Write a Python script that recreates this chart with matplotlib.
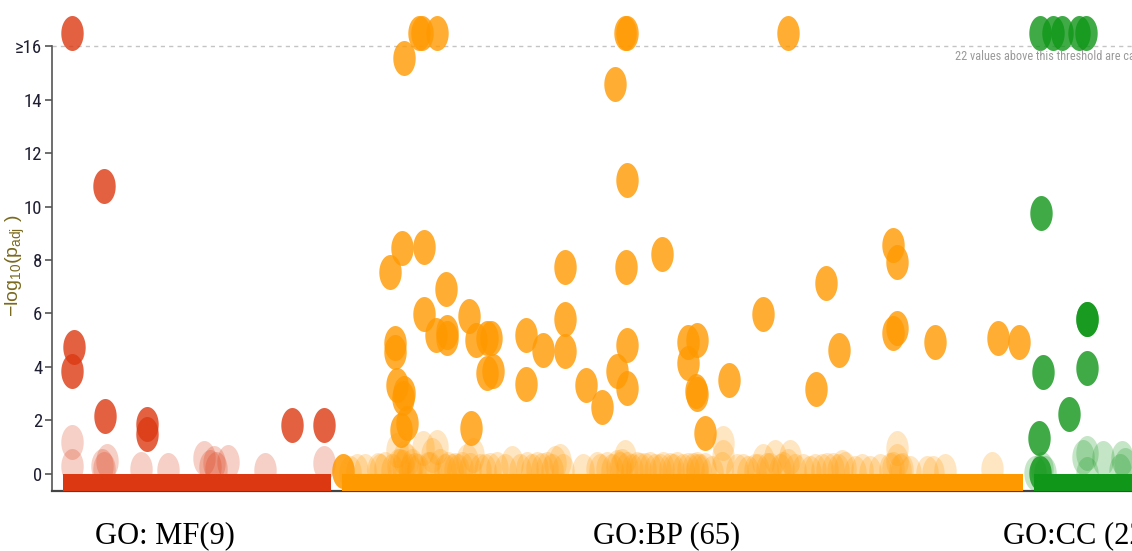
import numpy as np
import matplotlib
matplotlib.use("Agg")
import matplotlib.pyplot as plt
import matplotlib.font_manager as fm
from matplotlib.path import Path

# ---------------- data ----------------
categories = ["GO: MF(9)", "GO:BP (65)", "GO:CC (22)"]
cat_colors = ["#dc3912", "#ff9900", "#109618"]
cat_start = [63, 342, 1034]
cat_end = [331, 1023, 1185]

# GO:MF
mf_sig_x = [72, 104, 74, 72, 105, 147, 147, 292, 324]
mf_sig_y = [16.5, 10.75, 4.75, 3.85, 2.15, 1.87, 1.5, 1.83, 1.83]
mf_ns_x = [72, 72, 102, 107, 104, 141, 168, 204, 214, 210, 216, 228, 265, 324]
mf_ns_y = [1.2, 0.3, 0.3, 0.5, 0.2, 0.2, 0.15, 0.6, 0.4, 0.25, 0.2, 0.45, 0.15, 0.4]

# GO:BP
bp_sig_x = [419, 422, 437, 404, 402, 424, 390, 446, 424, 469, 436, 447, 447, 476, 487, 491,
            395, 395, 487, 493, 526, 543, 526, 397, 404, 403, 407, 401, 471,
            625, 627, 615, 627, 565, 626, 662, 565, 565, 627, 617, 627, 586, 602,
            688, 697, 688, 696, 697, 729, 763, 705,
            788, 893, 897, 826, 839, 816, 897, 893, 935, 998, 1019, 343]
bp_sig_y = [16.5, 16.5, 16.5, 15.55, 8.45, 8.49, 7.55, 6.92, 5.98, 5.91, 5.2, 5.3, 5.1, 5.0, 5.08, 5.08,
            4.9, 4.57, 3.77, 3.85, 5.2, 4.63, 3.36, 3.33, 3.03, 2.84, 1.9, 1.64, 1.72,
            16.5, 16.5, 14.58, 11.0, 7.73, 7.73, 8.22, 5.79, 4.6, 4.82, 3.85, 3.21, 3.33, 2.5,
            4.93, 5.0, 4.15, 3.1, 3.0, 3.5, 5.98, 1.53,
            16.5, 8.56, 7.93, 7.14, 4.63, 3.18, 5.46, 5.27, 4.93, 5.08, 4.93, 0.1]
bp_ns_x = [343, 357, 378, 385, 397, 400, 407, 410, 423, 437, 432, 430, 448, 462, 467, 473,
           490, 497, 512, 527, 537, 547, 555, 560, 563, 597, 607, 617, 625, 627, 637, 650,
           663, 677, 693, 697, 705, 723, 723, 722, 737, 748, 763, 775, 790, 770, 783, 788,
           803, 827, 842, 833, 862, 897, 897, 890, 902, 927, 933, 945, 992,
           380, 404, 415, 445, 455, 480, 520, 583, 620, 640, 655, 670, 683, 697, 712, 755,
           810, 815, 845, 870, 880, 910, 622, 398, 412, 440,
           350, 365, 392, 403, 418, 428, 452, 458, 470, 485, 505, 532, 542, 552, 600, 612,
           632, 645, 660, 673, 688, 700, 743, 758, 767, 780, 795, 822, 838, 855, 893, 900]
bp_ns_y = [0.1, 0.1, 0.15, 0.2, 0.9, 0.3, 0.5, 0.1, 0.97, 1.0, 0.7, 0.2, 0.2, 0.2, 0.5, 0.7,
           0.15, 0.2, 0.4, 0.2, 0.2, 0.2, 0.4, 0.5, 0.1, 0.2, 0.2, 0.25, 0.65, 0.2, 0.2, 0.2,
           0.2, 0.2, 0.15, 0.2, 0.15, 1.15, 0.65, 0.2, 0.1, 0.05, 0.5, 0.65, 0.65, 0.15, 0.2, 0.3,
           0.1, 0.15, 0.25, 0.15, 0.1, 0.97, 0.5, 0.15, 0.15, 0.05, 0.05, 0.1, 0.2,
           0.1, 0.6, 0.15, 0.1, 0.15, 0.1, 0.1, 0.1, 0.2, 0.15, 0.1, 0.15, 0.1, 0.1, 0.05, 0.1,
           0.05, 0.1, 0.2, 0.05, 0.1, 0.05, 0.3, 0.3, 0.3, 0.3,
           0.05, 0.1, 0.1, 0.25, 0.1, 0.2, 0.1, 0.1, 0.15, 0.1, 0.1, 0.1, 0.15, 0.1, 0.1, 0.1,
           0.1, 0.15, 0.1, 0.1, 0.15, 0.1, 0.1, 0.1, 0.15, 0.1, 0.1, 0.1, 0.1, 0.05, 0.2, 0.1]

# GO:CC
cc_sig_x = [1040, 1053, 1062, 1079, 1086, 1041, 1087, 1087, 1043, 1087, 1069, 1039, 1040]
cc_sig_y = [16.5, 16.5, 16.5, 16.5, 16.5, 9.76, 5.79, 5.79, 3.81, 3.96, 2.24, 1.35, 0.05]
cc_ns_x = [1083, 1087, 1103, 1122, 1035, 1045, 1087, 1120, 1125, 1042]
cc_ns_y = [0.65, 0.8, 0.6, 0.6, 0.05, 0.05, 0.0, 0.1, 0.35, 0.2]

y_ticks = [0, 2, 4, 6, 8, 10, 12, 14, 16]
y_tick_labels = ["0", "2", "4", "6", "8", "10", "12", "14", "\u226516"]
cap_value = 16
cap_note = "22 values above this threshold are capped"
y_label = r"$\mathregular{-log_{10}(p_{adj}\ )}$"


# ---------------- fonts ----------------
def find_narrow():
    prefs = ["Liberation Sans Narrow", "Roboto Condensed", "Open Sans Condensed",
             "Noto Sans Condensed", "DejaVu Sans Condensed", "Noto Sans", "DejaVu Sans",
             "Open Sans", "Roboto"]
    found = []
    for f in fm.fontManager.ttflist:
        w = f.weight
        if isinstance(w, str):
            ok_w = w in ("normal", "regular", "book", "roman")
        else:
            ok_w = 350 <= int(w) <= 450
        narrowish = ("Narrow" in f.name or "Condensed" in f.name or
                     str(f.stretch) in ("condensed", "semi-condensed"))
        if narrowish and ok_w and f.style == "normal" and "Mono" not in f.name:
            found.append(f)
    for p in prefs:
        for f in found:
            if f.name == p:
                return f.fname
    return found[0].fname if found else None


narrow_file = find_narrow()


def nfp(size):
    if narrow_file:
        return fm.FontProperties(fname=narrow_file, size=size)
    return fm.FontProperties(family=["Liberation Sans", "DejaVu Sans"], size=size)


# ---------------- figure ----------------
W, H = 1132, 551
fig = plt.figure(figsize=(W / 100, H / 100), dpi=100)
ax = fig.add_axes([52 / W, 60 / H, (1185 - 52) / W, 491 / H])
ax.set_xlim(52, 1185)
ax.set_ylim(-0.636, 17.72)

t = np.linspace(0, 2 * np.pi, 72)
ell = Path(np.column_stack([0.64 * np.cos(t), np.sin(t)]))
msize = (35 * 0.72) ** 2

series = [
    (mf_sig_x, mf_sig_y, mf_ns_x, mf_ns_y),
    (bp_sig_x, bp_sig_y, bp_ns_x, bp_ns_y),
    (cc_sig_x, cc_sig_y, cc_ns_x, cc_ns_y),
]
for (sx, sy, nx, ny), col in zip(series, cat_colors):
    ax.scatter(nx, ny, s=msize, marker=ell, color=col, alpha=0.24, linewidths=0, zorder=2)
    ax.scatter(sx, sy, s=msize, marker=ell, color=col, alpha=0.8, linewidths=0, zorder=2.5)

for x0, x1, col in zip(cat_start, cat_end, cat_colors):
    ax.fill_between([x0, x1], -0.636, 0, color=col, linewidth=0, zorder=3)

ax.axhline(cap_value, color="#c4c4c4", lw=1, ls=(0, (3, 3)), zorder=1)
ax.text(955, 15.6, cap_note, color="#9a9a9a", va="center", ha="left",
        fontproperties=nfp(8.8), zorder=4)

for s in ["top", "right"]:
    ax.spines[s].set_visible(False)
ax.spines["left"].set_bounds(-0.636, 16)
ax.spines["left"].set_color("#555555")
ax.spines["left"].set_linewidth(1.2)
ax.spines["bottom"].set_color("#444444")
ax.spines["bottom"].set_linewidth(1.6)
ax.set_xticks([])
ax.set_yticks(y_ticks)
ax.set_yticklabels(y_tick_labels)
for lab in ax.get_yticklabels():
    lab.set_fontproperties(nfp(13.5))
ax.tick_params(axis="y", length=5, width=1.2, color="#555555",
               labelcolor="#1f1f33", pad=2)

fig.text(15 / W, 1 - 265 / H, y_label, rotation=90, ha="center", va="center",
         color="#7a6a20", fontsize=14, family=["Liberation Sans", "DejaVu Sans"])

label_x = [165, 667, 1003]
label_ha = ["center", "center", "left"]
for lbl, lx, ha in zip(categories, label_x, label_ha):
    ax.annotate(lbl, xy=(lx, 8), xycoords=("data", "figure pixels"), ha=ha, va="baseline",
                fontsize=22, family=["Liberation Serif", "DejaVu Serif"], color="#000000",
                annotation_clip=False)

fig.savefig("out.png", dpi=100)
